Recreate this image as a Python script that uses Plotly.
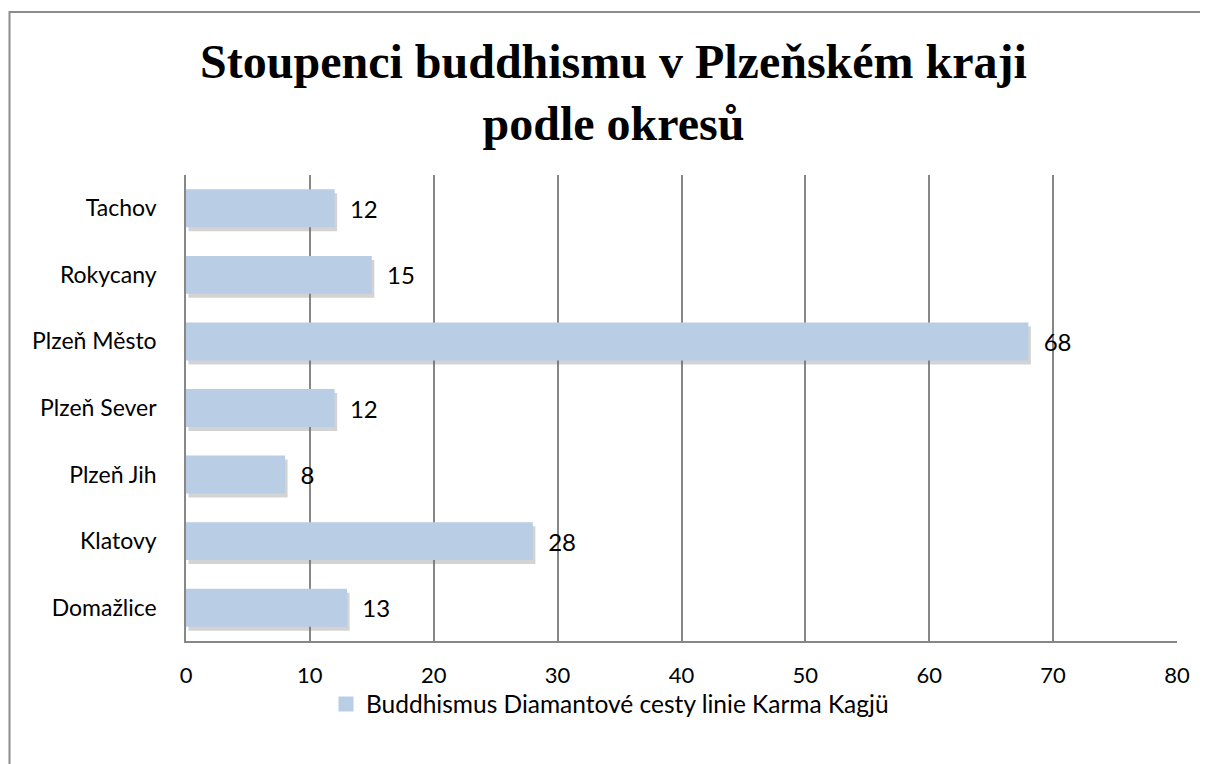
import plotly.graph_objects as go

# Data (bottom to top as drawn)
districts = ["Domažlice", "Klatovy", "Plzeň Jih", "Plzeň Sever", "Plzeň Město", "Rokycany", "Tachov"]
followers = [13, 28, 8, 12, 68, 15, 12]
series_name = "Buddhismus Diamantové cesty linie Karma Kagjü"
title_text = "Stoupenci buddhismu v Plzeňském kraji<br>podle okresů"
x_ticks = [0, 10, 20, 30, 40, 50, 60, 70, 80]

# page has an 8px body margin, so the figure is 8px smaller than the window
W, H = 1200, 756
L, R, T, B = 178, 31, 167, 123
plot_w = W - L - R
plot_h = H - T - B
xmax = 80
ncat = len(districts)

# shadow offsets in pixels -> converted to data units
sx = 2.5 / plot_w * xmax
sy = 4.0 / plot_h * ncat

bar_color = "#B9CDE5"
grid_color = "#878787"
text_font = "Lato"

fig = go.Figure()

# shadow (on base axes, drawn beneath)
fig.add_trace(go.Bar(
    x=followers, y=districts, orientation="h",
    marker=dict(color="rgba(110,110,110,0.30)", line=dict(width=0)),
    width=0.57, showlegend=False, hoverinfo="skip",
    xaxis="x", yaxis="y",
))

# main bars (on overlaying axes)
fig.add_trace(go.Bar(
    x=followers, y=districts, orientation="h", name=series_name,
    marker=dict(color=bar_color, line=dict(width=0)),
    width=0.57, showlegend=False,
    texttemplate="\u00a0\u00a0%{x}", textposition="outside",
    constraintext="none", cliponaxis=False,
    textfont=dict(family=text_font, size=24, color="#000000"),
    xaxis="x2", yaxis="y2",
))

# legend swatch
fig.add_trace(go.Scatter(
    x=[None], y=[None], mode="markers", name=series_name,
    marker=dict(symbol="square", size=15, color=bar_color),
    xaxis="x2", yaxis="y2", showlegend=True,
))

fig.update_layout(
    width=W, height=H,
    margin=dict(l=L, r=R, t=T, b=B, autoexpand=False),
    paper_bgcolor="white", plot_bgcolor="white",
    title=dict(
        text=title_text, x=605.5 / W, xanchor="center", y=1 - 70 / H, yanchor="middle",
        font=dict(family="Liberation Serif", size=48, color="#000000", weight="bold"),
    ),
    xaxis=dict(
        range=[-sx, xmax - sx], showgrid=False, zeroline=False, showline=False,
        showticklabels=False, fixedrange=True,
    ),
    yaxis=dict(
        type="category", categoryorder="array", categoryarray=districts,
        range=[-0.5 + sy, ncat - 0.5 + sy], showgrid=False, zeroline=False,
        showline=False, showticklabels=False, fixedrange=True,
    ),
    xaxis2=dict(
        overlaying="x", range=[0, xmax], tickvals=x_ticks, showgrid=True,
        gridcolor=grid_color, gridwidth=1.5, zeroline=False,
        showline=True, linecolor=grid_color, linewidth=1.5, side="bottom",
        ticks="", ticklabelstandoff=14,
        tickfont=dict(family=text_font, size=22, color="#000000"),
        anchor="y2",
    ),
    yaxis2=dict(
        overlaying="y", type="category", categoryorder="array", categoryarray=districts,
        range=[-0.5, ncat - 0.5], showgrid=False, zeroline=False,
        showline=True, linecolor=grid_color, linewidth=1.5, side="left",
        ticks="", ticklabelstandoff=23,
        tickfont=dict(family=text_font, size=23, color="#000000"),
        anchor="x2",
    ),
    showlegend=True,
    legend=dict(
        orientation="h", x=(602 - L) / plot_w, xanchor="center",
        y=(H - B - 696) / plot_h, yanchor="middle",
        font=dict(family=text_font, size=24.5, color="#000000"),
        bgcolor="rgba(0,0,0,0)",
    ),
    shapes=[dict(
        type="rect", xref="paper", yref="paper",
        x0=(1.5 - L) / plot_w, x1=(1230 - L) / plot_w,
        y0=(H - B - 800) / plot_h, y1=(H - B - 4) / plot_h,
        line=dict(color="#8c8c8c", width=2), fillcolor="rgba(0,0,0,0)", layer="below",
    )],
    bargap=0.43,
)

fig.write_html("out.html")
